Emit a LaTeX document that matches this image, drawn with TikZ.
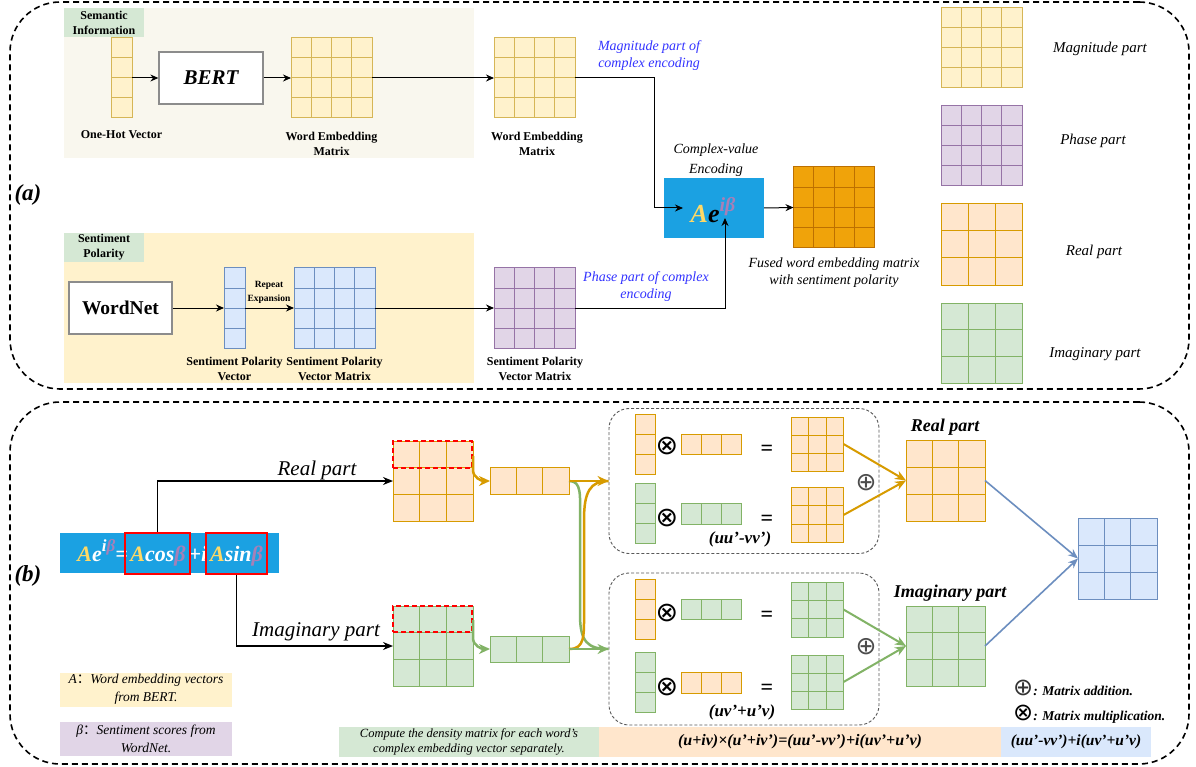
\documentclass[tikz,border=0pt]{standalone}
\usepackage{fontspec}
\setmainfont{Liberation Serif}
\newfontfamily\symf{DejaVu Sans}
\newfontfamily\cjk{Noto Sans CJK SC}
\usetikzlibrary{arrows.meta,calc}
\definecolor{yelF}{HTML}{FFF2CC}\definecolor{yelD}{HTML}{D6B656}
\definecolor{purF}{HTML}{E1D5E7}\definecolor{purD}{HTML}{9673A6}
\definecolor{oraF}{HTML}{FFE6CC}\definecolor{oraD}{HTML}{D79B00}
\definecolor{greF}{HTML}{D5E8D4}\definecolor{greD}{HTML}{82B366}
\definecolor{bluF}{HTML}{DAE8FC}\definecolor{bluD}{HTML}{6C8EBF}
\definecolor{fusF}{HTML}{F0A30A}\definecolor{fusD}{HTML}{BD7000}
\definecolor{cyanB}{HTML}{1BA1E2}
\definecolor{beige}{HTML}{F9F7EE}
\definecolor{labB}{HTML}{3333FF}
\definecolor{aYel}{HTML}{FFD966}
\definecolor{bPur}{HTML}{A680B8}
\newcommand\fs[2]{\fontsize{#1pt}{#2pt}\selectfont}
\newcommand\gmat[8]{%
  \node[draw=#8D, fill=#8F, line width=1pt, minimum width=#4pt, minimum height=#5pt, inner sep=0pt, outer sep=0pt] (#1) at (#2,#3) {};
  \foreach \k in {1,...,#6}{\ifnum\k<#6 \draw[#8D, line width=1pt] ($(#1.north west)!{\k/#6}!(#1.north east)$) -- ($(#1.south west)!{\k/#6}!(#1.south east)$);\fi}
  \foreach \k in {1,...,#7}{\ifnum\k<#7 \draw[#8D, line width=1pt] ($(#1.north west)!{\k/#7}!(#1.south west)$) -- ($(#1.north east)!{\k/#7}!(#1.south east)$);\fi}
}
\tikzset{
  lbl/.style={font=\bfseries\fs{12}{15}, align=center, inner sep=0pt},
  itl/.style={font=\itshape\fs{14}{17}, align=center, inner sep=0pt},
  bluelbl/.style={itl, text=labB},
  frame/.style={draw=black, line width=1.6pt, dash pattern=on 6pt off 4pt, rounded corners=50pt, inner sep=0pt},
  subframe/.style={draw=black!65, line width=0.9pt, dash pattern=on 3pt off 2pt, rounded corners=20pt, inner sep=0pt},
  bg/.style={inner sep=0pt, draw=none},
  whitebox/.style={draw=black!45, line width=1.3pt, fill=white, inner sep=0pt},
  arr/.style={-{Stealth[length=8pt,width=7pt]}, line width=1pt, black},
  barr/.style={-{Stealth[length=10pt,width=8pt]}, line width=1.6pt, black},
  redbox/.style={draw=red, line width=2.2pt, inner sep=0pt},
  reddash/.style={draw=red, line width=1.8pt, dash pattern=on 5pt off 3pt, inner sep=0pt},
  oarrS/.style={draw=oraD, line width=2.5pt, -{Stealth[length=11pt,width=10pt]}},
  garrS/.style={draw=greD, line width=2.5pt, -{Stealth[length=11pt,width=10pt]}},
  oline/.style={draw=oraD, line width=2.5pt},
  gline/.style={draw=greD, line width=2.5pt},
  oarrM/.style={draw=oraD, line width=2pt, -{Stealth[length=11pt,width=9pt]}},
  garrM/.style={draw=greD, line width=2pt, -{Stealth[length=11pt,width=9pt]}},
  blarr/.style={draw=bluD, line width=1.6pt, -{Stealth[length=10pt,width=8pt]}},
  sym/.style={font=\symf\fs{27}{27}, inner sep=0pt},
  psym/.style={font=\symf\fs{25}{25}, inner sep=0pt, text=black!70},
  eqs/.style={font=\bfseries\fs{22}{22}, inner sep=0pt},
  bi/.style={font=\bfseries\itshape\fs{18}{20}, align=center, inner sep=0pt},
}
\begin{document}
\begin{tikzpicture}[x=1pt,y=-1pt]
\useasboundingbox[fill=white] (0,0) rectangle (1196,767);
% frames
\node[frame, minimum width=1179pt, minimum height=387pt] (fra) at (599.5,195.5) {};
\node[frame, minimum width=1179pt, minimum height=362pt] (frb) at (599.5,583) {};
\node[font=\bfseries\itshape\fs{23}{23}] (la) at (28,195) {(a)};
\node[font=\bfseries\itshape\fs{23}{23}] (lb) at (28,576) {(b)};
% ===== (a) =====
\node[bg, fill=beige, minimum width=410pt, minimum height=150pt] (semBg) at (269,83) {};
\node[bg, fill=greF, minimum width=80pt, minimum height=29pt, lbl] (semL) at (104,22.5) {Semantic\\Information};
\node[bg, fill=yelF, minimum width=410pt, minimum height=150pt] (senBg) at (269,308) {};
\node[bg, fill=greF, minimum width=80pt, minimum height=29pt, lbl] (senL) at (104,247.5) {Sentiment\\Polarity};

\gmat{oh}{121.5}{78}{21}{80}{1}{4}{yel}
\node[whitebox, minimum width=104pt, minimum height=52pt, font=\bfseries\itshape\fs{21}{21}] (bert) at (211,78) {BERT};
\gmat{wem1}{331.5}{78}{81}{80}{4}{4}{yel}
\gmat{wem2}{534.5}{78}{81}{80}{4}{4}{yel}
\node[lbl] (ohL) at (121.5,135) {One-Hot Vector};
\node[lbl] (wem1L) at (331.5,143.5) {Word Embedding\\Matrix};
\node[lbl] (wem2L) at (537,143.5) {Word Embedding\\Matrix};
\node[bluelbl] (magL) at (649,55.5) {Magnitude part of\\complex encoding};

\node[whitebox, minimum width=103pt, minimum height=52pt, font=\bfseries\fs{19.5}{20}] (wn) at (120.5,308) {WordNet};
\gmat{spv}{234.5}{308}{21}{80}{1}{4}{blu}
\gmat{spvm}{334.5}{308}{81}{80}{4}{4}{blu}
\gmat{pm}{534.5}{308}{81}{80}{4}{4}{pur}
\node[font=\bfseries\fs{9.5}{14}, align=center, inner sep=0pt] (rep) at (269,292) {Repeat\\Expansion};
\node[lbl] (spvL) at (234.5,368.5) {Sentiment Polarity\\Vector};
\node[lbl] (spvmL) at (334.5,368.5) {Sentiment Polarity\\Vector Matrix};
\node[lbl] (pmL) at (535,368.5) {Sentiment Polarity\\Vector Matrix};
\node[bluelbl] (phL) at (646,286.5) {Phase part of complex\\encoding};

\node[bg, fill=cyanB, minimum width=100pt, minimum height=60pt] (enc) at (714,208) {};
\node[font=\bfseries\itshape\fs{26}{26}, inner sep=0pt] (encT) at (713,210) {\textcolor{aYel}{A}e\raisebox{0.4em}{\fs{20}{20}\textcolor{bPur}{iβ}}};
\node[font=\itshape\fs{14}{20}, align=center, inner sep=0pt] (encL) at (716,160) {Complex-value\\Encoding};
\gmat{fused}{834}{207.5}{81}{81}{4}{4}{fus}
\node[itl] (fusL) at (834,273) {Fused word embedding matrix\\with sentiment polarity};

\coordinate (magB) at (654,78);
\coordinate (encIn) at (683,208);
\coordinate (encUp) at (725,218);
\draw[arr] (oh.east) -- (bert.west);
\draw[arr] (bert.east) -- (wem1.west);
\draw[arr] (wem1.east) -- (wem2.west);
\draw[arr] (wem2.east) -- (magB) |- (encIn);
\draw[arr] (pm.east) -| (encUp);
\draw[arr] (enc.east) -- (fused.west);
\draw[arr] (wn.east) -- (spv.west);
\draw[arr] (spv.east) -- (spvm.west);
\draw[arr] (spvm.east) -- (pm.west);

% legend
\gmat{legM}{981.5}{48}{81}{80}{4}{4}{yel}
\gmat{legP}{981.5}{146}{81}{80}{4}{4}{pur}
\gmat{legR}{981.5}{244.5}{81}{81}{3}{3}{ora}
\gmat{legI}{981.5}{343}{81}{80}{3}{3}{gre}
\node[font=\itshape\fs{15}{15}, inner sep=0pt] (legML) at (1100,49) {Magnitude part};
\node[font=\itshape\fs{15}{15}, inner sep=0pt] (legPL) at (1093,141) {Phase part};
\node[font=\itshape\fs{15}{15}, inner sep=0pt] (legRL) at (1094,252) {Real part};
\node[font=\itshape\fs{15}{15}, inner sep=0pt] (legIL) at (1095,354) {Imaginary part};

% ===== (b) =====
\node[bg, fill=cyanB, minimum width=219pt, minimum height=40pt] (fbox) at (169.5,553) {};
\node[font=\bfseries\itshape\fs{22}{22}, text=white, inner sep=0pt, anchor=base east] (f1) at (128,561) {\textcolor{aYel}{A}e\raisebox{0.45em}{\fs{17}{17}i\textcolor{bPur}{β}}=};
\node[font=\bfseries\itshape\fs{22}{22}, text=white, inner sep=0pt, anchor=base] (f2) at (158,561) {\textcolor{aYel}{A}cos\textcolor{bPur}{β}};
\node[font=\bfseries\itshape\fs{22}{22}, text=white, inner sep=0pt, anchor=base] (f3) at (198,561) {+i};
\node[font=\bfseries\itshape\fs{22}{22}, text=white, inner sep=0pt, anchor=base] (f4) at (236.5,561) {\textcolor{aYel}{A}sin\textcolor{bPur}{β}};
\node[redbox, minimum width=65pt, minimum height=41pt] (rb1) at (157.5,553.5) {};
\node[redbox, minimum width=61pt, minimum height=41pt] (rb2) at (236.5,553.5) {};

\gmat{orM}{433}{481}{80}{80}{3}{3}{ora}
\gmat{grM}{433}{646}{80}{80}{3}{3}{gre}
\node[reddash, minimum width=79pt, minimum height=27pt] (rdo) at (432.5,454.5) {};
\node[reddash, minimum width=79pt, minimum height=26pt] (rdg) at (432.5,619) {};
\draw[barr] (rb1.north) |- (orM.west);
\draw[barr] (rb2.south) |- (grM.west);
\node[font=\itshape\fs{21}{21}, inner sep=0pt] (realL) at (317,470) {Real part};
\node[font=\itshape\fs{21}{21}, inner sep=0pt] (imL) at (316,632) {Imaginary part};

\gmat{orRow}{529.5}{481}{79}{27}{3}{1}{ora}
\gmat{grRow}{529.5}{649}{79}{26}{3}{1}{gre}
\draw[oarrS] ($(orM.north east)+(0,15)$) -- ++(0,14) to[out=-90,in=180] (orRow.west);
\draw[garrS] ($(grM.north east)+(0,14)$) -- ++(0,18) to[out=-90,in=180] (grRow.west);

\node[subframe, minimum width=270pt, minimum height=145pt] (box1) at (744,481) {};
\node[subframe, minimum width=270pt, minimum height=152pt] (box2) at (744,649) {};

\draw[gline] (orRow.east) .. controls (582,481) and (580,495) .. (580,520) -- (580,615) .. controls (580,642) and (588,649) .. (box2.west);
\draw[oline] (grRow.east) .. controls (585,649) and (584,636) .. (584,612) -- (584,520) .. controls (584,492) and (590,481) .. (box1.west);
\draw[oarrS] (orRow.east) -- (box1.west);
\draw[garrS] (grRow.east) -- (box2.west);

% box1
\gmat{c1}{645}{444}{20}{60}{1}{3}{ora}
\gmat{r1}{711.5}{444}{60}{20}{3}{1}{ora}
\gmat{m1}{817.5}{444}{52}{54}{3}{3}{ora}
\gmat{c2}{645}{513}{20}{60}{1}{3}{gre}
\gmat{r2}{711.5}{513.5}{60}{21}{3}{1}{gre}
\gmat{m2}{817.5}{515}{52}{55}{3}{3}{ora}
\node[sym] (x1) at (667,446) {⊗};
\node[sym] (x2) at (667,518) {⊗};
\node[eqs] (e1) at (767,450) {=};
\node[eqs] (e2) at (767,520) {=};
\node[bi, font=\bfseries\itshape\fs{17}{17}] (uu) at (740,539) {(uu'-vv')};
\node[psym] (p1) at (866,483) {⊕};
% box2
\gmat{c3}{645}{609}{20}{60}{1}{3}{ora}
\gmat{r3}{711.5}{609}{60}{20}{3}{1}{gre}
\gmat{m3}{817.5}{609.5}{52}{55}{3}{3}{gre}
\gmat{c4}{645}{682}{20}{60}{1}{3}{gre}
\gmat{r4}{711.5}{682.5}{60}{21}{3}{1}{ora}
\gmat{m4}{817.5}{682}{52}{54}{3}{3}{gre}
\node[sym] (x3) at (667,613) {⊗};
\node[sym] (x4) at (667,687) {⊗};
\node[eqs] (e3) at (767,616) {=};
\node[eqs] (e4) at (767,689) {=};
\node[bi, font=\bfseries\itshape\fs{17}{17}] (uv) at (742,712) {(uv'+u'v)};
\node[psym] (p2) at (866,647) {⊕};

\gmat{realM}{945.5}{480.5}{79}{81}{3}{3}{ora}
\gmat{imM}{945.5}{646}{79}{80}{3}{3}{gre}
\gmat{res}{1117.5}{558.5}{79}{81}{3}{3}{blu}
\node[bi] (realT) at (945,427) {Real part};
\node[bi] (imT) at (950,593) {Imaginary part};
\draw[oarrM] (m1.east) -- (realM.west);
\draw[oarrM] (m2.east) -- (realM.west);
\draw[garrM] (m3.east) -- (imM.west);
\draw[garrM] (m4.east) -- (imM.west);
\draw[blarr] (realM.east) -- (res.west);
\draw[blarr] (imM.east) -- (res.west);

\node[inner sep=0pt, anchor=west] (legAdd) at (1013,688) {{\symf\fs{24}{24}\textcolor{black!80}{⊕}}{\bfseries\itshape\fs{13.5}{14}: Matrix addition.}};
\node[inner sep=0pt, anchor=west] (legMul) at (1013,714) {{\symf\fs{24}{24}⊗}{\bfseries\itshape\fs{13.5}{14}: Matrix multiplication.}};

% bottom strip
\node[bg, fill=greF, minimum width=260pt, minimum height=30pt, font=\itshape\fs{12.5}{15}, align=center] (cmp) at (469,742) {Compute the density matrix for each word's\\complex embedding vector separately.};
\node[bg, fill=oraF, minimum width=402pt, minimum height=30pt, font=\bfseries\itshape\fs{16}{16}] (frm) at (800,742) {(u+iv)×(u'+iv')=(uu'-vv')+i(uv'+u'v)};
\node[bg, fill=bluF, minimum width=150pt, minimum height=30pt, font=\bfseries\itshape\fs{15.5}{16}] (frr) at (1076,742) {(uu'-vv')+i(uv'+u'v)};

% left legend
\node[bg, fill=yelF, minimum width=172pt, minimum height=34pt, font=\itshape\fs{13.5}{18}, align=center] (legA) at (146,689.5) {A{\cjk ：}Word embedding vectors\\from BERT.};
\node[bg, fill=purF, minimum width=172pt, minimum height=34pt, font=\itshape\fs{13.5}{18}, align=center] (legB) at (146,738.5) {β{\cjk ：}Sentiment scores from\\WordNet.};
\end{tikzpicture}
\end{document}
